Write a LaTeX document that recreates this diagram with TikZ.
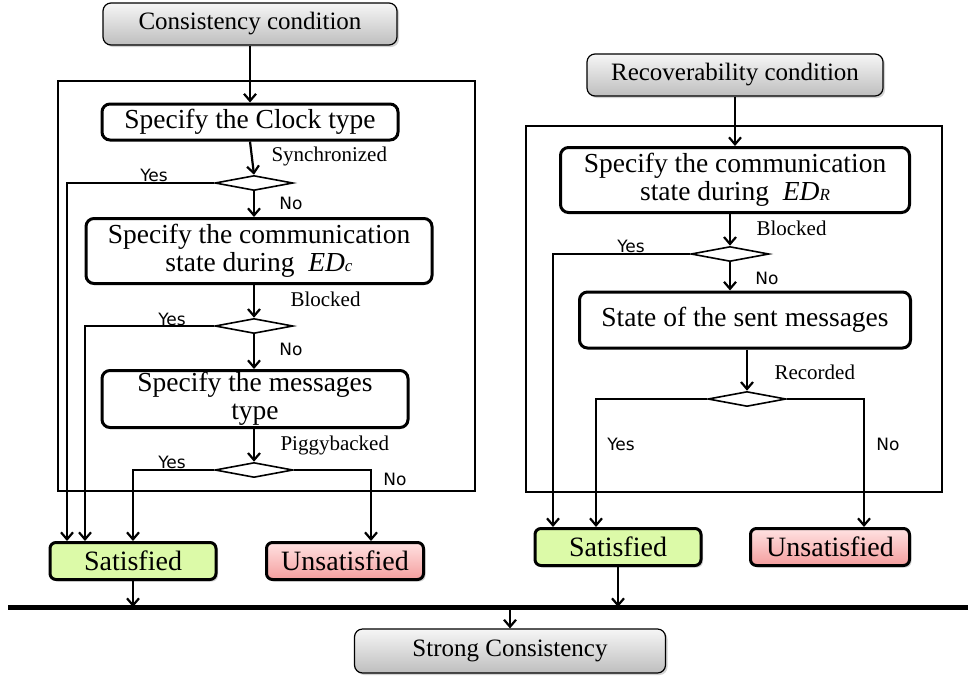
\documentclass[tikz,border=0pt]{standalone}
\usepackage{fontspec}
\setmainfont{Liberation Serif}
\newfontfamily\ynfont{DejaVu Sans}
\usetikzlibrary{arrows.meta,shapes.geometric,shadows}

\definecolor{condtop}{RGB}{246,246,246}
\definecolor{condbot}{RGB}{190,190,190}
\definecolor{satgreen}{RGB}{220,250,168}
\definecolor{unsattop}{RGB}{255,226,226}
\definecolor{unsatbot}{RGB}{244,158,158}

\newcommand{\edidx}[1]{\textit{ED}{\fontsize{17}{17}\selectfont\textit{#1}}}

\begin{document}
\begin{tikzpicture}[x=1pt, y=-1pt,
	condbox/.style={draw, line width=1.2pt, rounded corners=8pt, top color=condtop, bottom color=condbot,
		drop shadow={shadow xshift=2pt, shadow yshift=-2pt, opacity=0.35}, inner sep=0pt,
		font=\fontsize{25}{27}\selectfont},
	stepbox/.style={draw, line width=3pt, rounded corners=8pt, fill=white, inner sep=0pt,
		align=center, font=\fontsize{27.5}{28}\selectfont},
	endbox/.style={draw, line width=3pt, rounded corners=6pt, inner sep=0pt,
		minimum width=166pt, minimum height=37pt, font=\fontsize{28}{28}\selectfont,
		drop shadow={shadow xshift=2pt, shadow yshift=-2pt, opacity=0.35}},
	decision/.style={draw, diamond, line width=1.6pt, inner sep=0pt, minimum width=78pt, minimum height=15pt},
	frame/.style={draw, line width=2pt},
	flow/.style={line width=2.2pt, -{Straight Barb[length=7pt, width=12pt, line width=2.2pt]}},
	bus/.style={line width=5pt},
	cond/.style={font=\fontsize{21}{23}\selectfont},
	yn/.style={font=\ynfont\fontsize{17}{19}\selectfont}
	]
	\useasboundingbox (0,0) rectangle (968,675);
	
	% frames
	\draw [frame] (58,81)  rectangle (475,491);
	\draw [frame] (526,126) rectangle (942,492);
	
	% left column
	\node [condbox, minimum width=294pt, minimum height=42pt] (consist) at (250,24) {Consistency condition};
	\node [stepbox, minimum width=296pt, minimum height=36pt] (clock) at (250,122) {Specify the Clock type};
	\node [decision] (decclock) at (254,183) {};
	\node [stepbox, minimum width=346pt, minimum height=65pt] (commc) at (259,251) {Specify the communication\\state during~~\edidx{c}};
	\node [decision] (deccommc) at (254,326) {};
	\node [stepbox, minimum width=306pt, minimum height=57pt] (msgtype) at (255,399) {Specify the messages\\type};
	\node [decision] (decmsg) at (254,470) {};
	\node [endbox, fill=satgreen] (satl) at (133,561) {Satisfied};
	\node [endbox, minimum width=157pt, top color=unsattop, bottom color=unsatbot] (unsatl) at (345,561) {Unsatisfied};
	
	% right column
	\node [condbox, minimum width=296pt, minimum height=42pt] (recov) at (735,75) {Recoverability condition};
	\node [stepbox, minimum width=349pt, minimum height=65pt] (commr) at (735,180) {Specify the communication\\state during~~\edidx{R}};
	\node [decision] (deccommr) at (730,254) {};
	\node [stepbox, minimum width=331pt, minimum height=56pt] (sent) at (745,320) {State of the sent messages};
	\node [decision] (decsent) at (747,399) {};
	\node [endbox, fill=satgreen] (satr) at (618,547) {Satisfied};
	\node [endbox, minimum width=159pt, top color=unsattop, bottom color=unsatbot] (unsatr) at (830,547) {Unsatisfied};
	
	% bottom
	\coordinate (busl) at (8,607);
	\coordinate (busr) at (968,607);
	\node [condbox, minimum width=311pt, minimum height=44pt] (strong) at (510,651) {Strong Consistency};
	
	% labels
	\node [cond, anchor=west] (lsync)   at (268,156) {Synchronized};
	\node [cond, anchor=west] (lblockc) at (287,299) {Blocked};
	\node [cond, anchor=west] (lpiggy)  at (277,445) {Piggybacked};
	\node [cond, anchor=west] (lblockr) at (753,228) {Blocked};
	\node [cond, anchor=west] (lrec)    at (771,372) {Recorded};
	\node [yn] (ly1) at (154,175) {Yes};
	\node [yn] (ln1) at (291,203) {No};
	\node [yn] (ly2) at (172,319) {Yes};
	\node [yn] (ln2) at (291,349) {No};
	\node [yn] (ly3) at (172,462) {Yes};
	\node [yn] (ln3) at (395,479) {No};
	\node [yn] (ly4) at (631,246) {Yes};
	\node [yn] (ln4) at (767,278) {No};
	\node [yn] (ly5) at (621,444) {Yes};
	\node [yn] (ln5) at (888,444) {No};
	
	% left connectors
	\draw [flow] (consist.south) -- (clock.north);
	\draw [flow] (clock.south) -- (decclock.north);
	\draw [flow] (decclock.south) -- (commc.north -| decclock);
	\draw [flow] (commc.south -| deccommc) -- (deccommc.north);
	\draw [flow] (deccommc.south) -- (msgtype.north -| deccommc);
	\draw [flow] (msgtype.south -| decmsg) -- (decmsg.north);
	\draw [flow] (decclock.west) -| ([xshift=-66pt]satl.north);
	\draw [flow] (deccommc.west) -| ([xshift=-48pt]satl.north);
	\draw [flow] (decmsg.west) -| (satl.north);
	\draw [flow] (decmsg.east) -| ([xshift=26pt]unsatl.north);
	
	% right connectors
	\draw [flow] (recov.south) -- (commr.north);
	\draw [flow] (commr.south -| deccommr) -- (deccommr.north);
	\draw [flow] (deccommr.south) -- (sent.north -| deccommr);
	\draw [flow] (sent.south -| decsent) -- (decsent.north);
	\draw [flow] (deccommr.west) -| ([xshift=-65pt]satr.north);
	\draw [flow] (decsent.west) -| ([xshift=-22pt]satr.north);
	\draw [flow] (decsent.east) -| ([xshift=34pt]unsatr.north);
	
	% to the common line
	\draw [bus] (busl) -- (busr);
	\draw [flow] (satl.south) -- (satl.south |- busl);
	\draw [flow] (satr.south) -- (satr.south |- busl);
	\draw [flow] (strong.north |- busl) -- (strong.north);
	
\end{tikzpicture}
\end{document}
